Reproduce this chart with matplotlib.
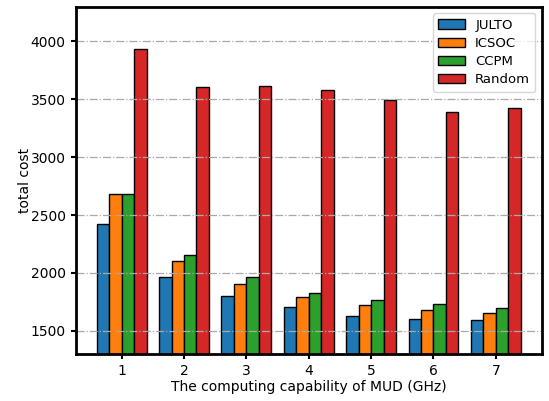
import numpy as np
import matplotlib
matplotlib.use("Agg")
import matplotlib.pyplot as plt

# computing capability of the MUD (GHz)
capability = [1, 2, 3, 4, 5, 6, 7]

julto = [2426, 1963, 1799, 1710, 1629, 1601, 1598]
icsoc = [2684, 2103, 1903, 1790, 1724, 1681, 1655]
ccpm = [2686, 2155, 1966, 1828, 1765, 1730, 1696]
rand = [3935, 3607, 3616, 3584, 3497, 3394, 3426]

series = [("JULTO", julto, "#1f77b4"),
          ("ICSOC", icsoc, "#ff7f0e"),
          ("CCPM", ccpm, "#2ca02c"),
          ("Random", rand, "#d62728")]

fig = plt.figure(figsize=(5.49, 4.01), dpi=100)
ax = fig.add_axes([75.5 / 549, 1 - 354 / 401, (542 - 75.5) / 549, (354 - 6.7) / 401])

x = np.array(capability)
width = 0.2
for i, (name, vals, color) in enumerate(series):
    ax.bar(x + (i - 1.5) * width, vals, width, color=color,
           edgecolor="black", linewidth=1.0, label=name)

ax.set_ylim(1300, 4300)
ax.set_xticks(capability)
ax.set_yticks([1500, 2000, 2500, 3000, 3500, 4000])
ax.yaxis.grid(True, linestyle="-.", color="darkgray", linewidth=0.9)

for s in ax.spines.values():
    s.set_linewidth(2)
ax.tick_params(width=1.5)

ax.set_xlabel("The computing capability of MUD (GHz)", labelpad=2)
ax.set_ylabel("total cost", labelpad=-1)
ax.legend(loc="upper right", fontsize=9.5, labelspacing=0.4)

fig.savefig("out.png", dpi=100)
